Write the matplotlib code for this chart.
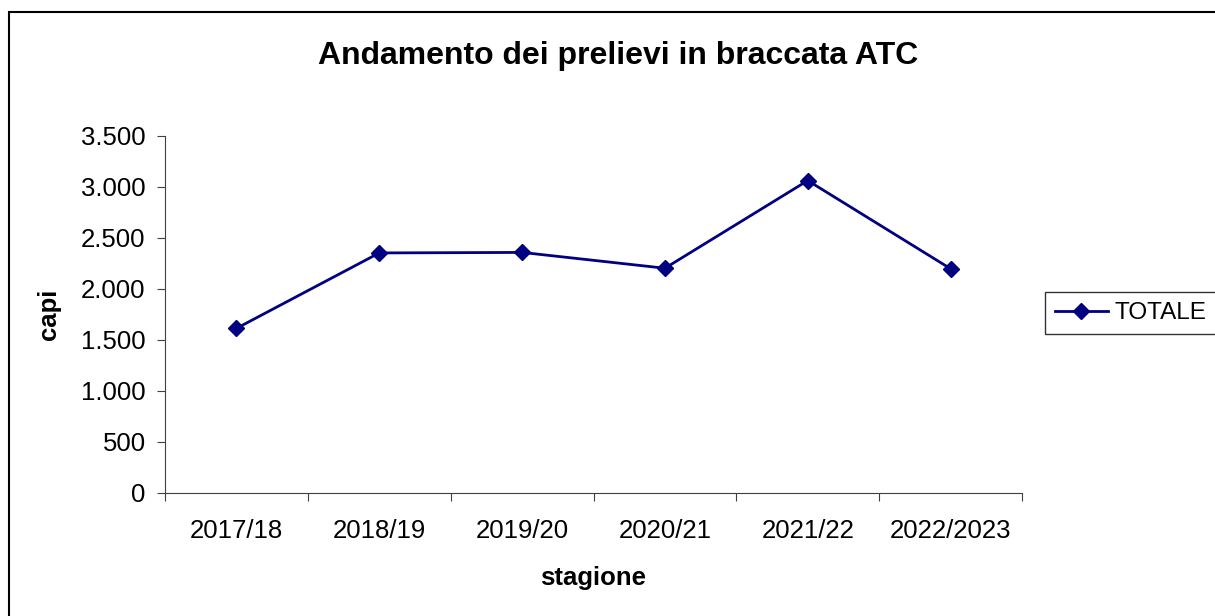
import matplotlib.pyplot as plt
from matplotlib.patches import Rectangle
from matplotlib.ticker import FuncFormatter

plt.rcParams['font.family'] = ['Liberation Sans', 'DejaVu Sans']

stagioni = ['2017/18', '2018/19', '2019/20', '2020/21', '2021/22', '2022/2023']
totale = [1610, 2350, 2355, 2200, 3060, 2195]

fig = plt.figure(figsize=(12.15, 6.16), dpi=100)
ax = fig.add_axes([165 / 1215, 1 - 492.5 / 616, (1022 - 165) / 1215, (492.5 - 135.7) / 616])

x = list(range(len(stagioni)))
ax.plot(x, totale, color='#000080', lw=2, marker='D', markersize=8, label='TOTALE')

ax.set_xlim(-0.5, len(stagioni) - 0.5)
ax.set_ylim(0, 3500)
ax.set_yticks(range(0, 3501, 500))
ax.yaxis.set_major_formatter(FuncFormatter(lambda v, p: f'{int(v):,}'.replace(',', '.')))

# category boundaries as major ticks, labels centred with minor ticks
ax.set_xticks([i - 0.5 for i in range(len(stagioni) + 1)])
ax.set_xticklabels([])
ax.set_xticks(x, minor=True)
ax.set_xticklabels(stagioni, minor=True)
ax.tick_params(axis='x', which='minor', length=0, pad=19, labelsize=18.5)
ax.tick_params(axis='x', which='major', length=6, direction='out', color='#404040')
ax.tick_params(axis='y', length=6, direction='out', labelsize=18.5, pad=8, color='#404040')

for s in ['top', 'right']:
    ax.spines[s].set_visible(False)
for s in ['left', 'bottom']:
    ax.spines[s].set_color('#404040')

ax.set_xlabel('stagione', fontsize=18.5, fontweight='bold', labelpad=17)
ax.set_ylabel('capi', fontsize=18.5, fontweight='bold', labelpad=14)
fig.text(618 / 1215, 1 - 56 / 616, 'Andamento dei prelievi in braccata ATC',
         ha='center', va='center', fontsize=23, fontweight='bold')

leg = ax.legend(loc='center left', bbox_to_anchor=(1045 / 1215, 1 - 313 / 616),
                bbox_transform=fig.transFigure, fontsize=17.5, frameon=True, fancybox=False,
                handlelength=2.2, borderpad=0.4, handletextpad=0.25, borderaxespad=0)
leg.get_frame().set_edgecolor('black')
leg.get_frame().set_linewidth(1)

# outer chart frame
fig.patches.append(Rectangle((9 / 1215, -0.1), 1.2, 1 - 12 / 616 + 0.1, transform=fig.transFigure,
                             fill=False, edgecolor='black', lw=1.5))

fig.savefig('out.png', dpi=100)
